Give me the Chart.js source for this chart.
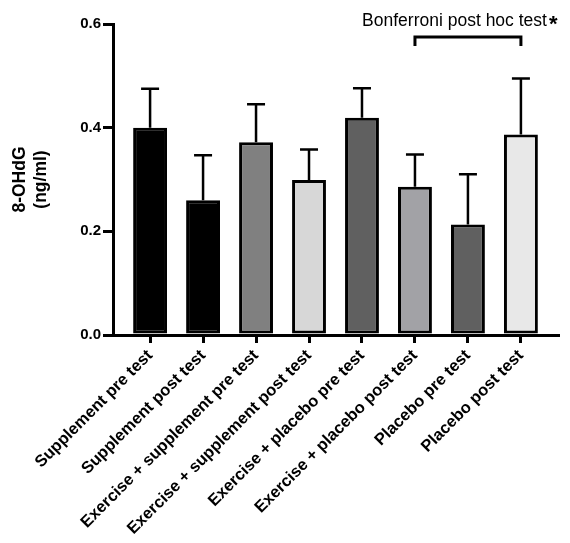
<!DOCTYPE html>
<html>
<head>
<meta charset="utf-8">
<script src="https://cdn.jsdelivr.net/npm/chart.js@4.4.0/dist/chart.umd.min.js"></script>
<style>
  body { margin: 0; background: #fff; }
  #wrap { width: 570px; height: 543px; }
</style>
</head>
<body>
<div id="wrap"><canvas id="chart"></canvas></div>
<script>
// groups on the x axis
const labels = [
  'Supplement pre test',
  'Supplement post test',
  'Exercise + supplement pre test',
  'Exercise + supplement post test',
  'Exercise + placebo pre test',
  'Exercise + placebo post test',
  'Placebo pre test',
  'Placebo post test'
];
// 8-OHdG mean and SD (ng/ml)
const means = [0.400, 0.260, 0.372, 0.299, 0.419, 0.286, 0.213, 0.387];
const sds = [0.075, 0.087, 0.073, 0.059, 0.057, 0.062, 0.097, 0.108];
const barColors = ['#000000', '#000000', '#808080', '#d7d7d7', '#606060', '#a2a2a6', '#606060', '#e8e8e8'];
const yTicks = [0, 0.2, 0.4, 0.6];

// significance bracket between two groups
const sigPair = [5, 7];
const sigLevel = 0.575;
const sigText = 'Bonferroni post hoc test';

Chart.defaults.font.family = '"Liberation Sans", Arial, sans-serif';
Chart.defaults.color = '#000';

// draws the upper SD whiskers and the bracket
const extras = {
  id: 'extras',
  afterDatasetsDraw(chart) {
    const ctx = chart.ctx;
    const x = chart.scales.x, y = chart.scales.y;
    ctx.save();
    ctx.strokeStyle = '#000';
    ctx.lineWidth = 2.5;
    means.forEach((m, i) => {
      const px = x.getPixelForValue(i);
      const top = y.getPixelForValue(m + sds[i]);
      ctx.beginPath();
      ctx.moveTo(px, y.getPixelForValue(m));
      ctx.lineTo(px, top);
      ctx.moveTo(px - 9, top);
      ctx.lineTo(px + 9, top);
      ctx.stroke();
    });

    // bracket
    const x1 = x.getPixelForValue(sigPair[0]);
    const x2 = x.getPixelForValue(sigPair[1]);
    const by = y.getPixelForValue(sigLevel);
    ctx.lineWidth = 3;
    ctx.beginPath();
    ctx.moveTo(x1, by + 9);
    ctx.lineTo(x1, by);
    ctx.lineTo(x2, by);
    ctx.lineTo(x2, by + 9);
    ctx.stroke();

    ctx.fillStyle = '#000';
    ctx.font = '17.5px "Liberation Sans", Arial, sans-serif';
    ctx.textAlign = 'right';
    ctx.textBaseline = 'alphabetic';
    const tx = x2 + 26;
    ctx.fillText(sigText, tx, by - 11);
    ctx.font = 'bold 22px "Liberation Sans", Arial, sans-serif';
    ctx.textAlign = 'left';
    ctx.fillText('*', tx + 2, by - 6);
    ctx.restore();
  }
};

new Chart(document.getElementById('chart'), {
  type: 'bar',
  data: {
    datasets: [{
      data: means.map((m, i) => ({ x: i, y: m })),
      backgroundColor: barColors,
      borderColor: '#000',
      borderWidth: 3,
      borderSkipped: false,
      categoryPercentage: 1,
      barPercentage: 0.64
    }]
  },
  options: {
    responsive: true,
    maintainAspectRatio: false,
    animation: false,
    layout: { padding: { left: 8, right: 12, top: 24, bottom: 0 } },
    plugins: { legend: { display: false }, tooltip: { enabled: false } },
    scales: {
      x: {
        type: 'linear',
        offset: false,
        min: -0.7,
        max: 7.7,
        afterBuildTicks: s => { s.ticks = labels.map((_, i) => ({ value: i })); },
        afterFit: s => { s.height = 208; },
        grid: { offset: false, drawOnChartArea: false, tickLength: 8, lineWidth: 3, color: '#000' },
        border: { display: true, color: '#000', width: 3 },
        ticks: {
          autoSkip: false,
          minRotation: 45,
          maxRotation: 45,
          padding: 3,
          font: { size: 16.5, weight: 'bold' },
          callback: v => labels[v]
        }
      },
      y: {
        min: 0,
        max: 0.6,
        afterBuildTicks: s => { s.ticks = yTicks.map(v => ({ value: v })); },
        afterFit: s => { s.width = 105; },
        grid: { drawOnChartArea: false, tickLength: 10, lineWidth: 3, color: '#000' },
        border: { display: true, color: '#000', width: 3 },
        ticks: {
          padding: 2,
          font: { size: 15, weight: 'bold' },
          callback: v => v.toFixed(1)
        },
        title: {
          display: true,
          text: ['8-OHdG', '(ng/ml)'],
          font: { size: 17.5, weight: 'bold' },
          padding: { top: 2, bottom: 8 }
        }
      }
    }
  },
  plugins: [extras]
});
</script>
</body>
</html>
